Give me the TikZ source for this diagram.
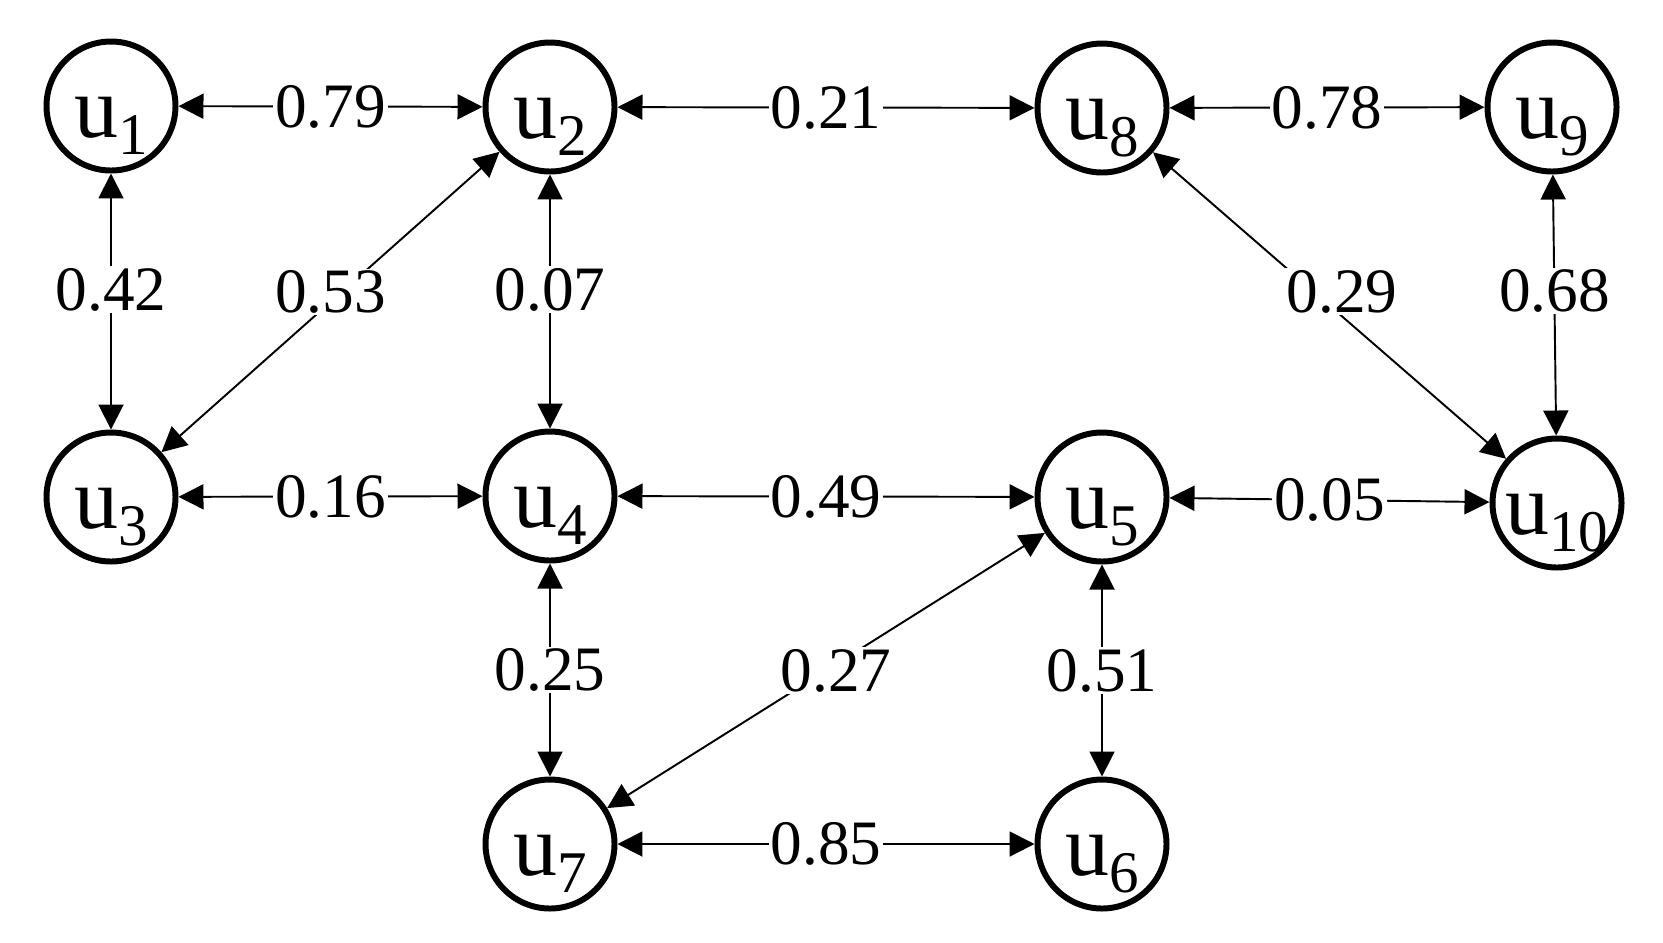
\documentclass[tikz,border=0pt]{standalone}
\usepackage{fontspec}
\setmainfont{Liberation Serif}
\usepackage{tikz}
\usetikzlibrary{arrows.meta}

\newcommand{\unode}[1]{\makebox[0pt]{\raisebox{-0.62cm}[0pt][0pt]{u\raisebox{-0.34cm}{\fontsize{33.6}{34}\selectfont #1}}}}

\begin{document}
\begin{tikzpicture}[vertex/.style={circle, draw, line width=3.4pt, minimum size=2.58cm,
                                   inner sep=0pt, font=\fontsize{50}{54}\selectfont},
                    weight/.style={fill=white, inner sep=1pt, font=\fontsize{36}{40}\selectfont},
                    >={Triangle[length=0.5cm,width=0.5cm]},
                    every edge/.style={draw, line width=1.1pt}]
                    \useasboundingbox (0,0) rectangle (33.26,-18.84);
                    % top row
                    \node[vertex] (u1) at (2.22,-2.12) {\unode{1}};
                    \node[vertex] (u2) at (11.0,-2.14) {\unode{2}};
                    \node[vertex] (u8) at (22.04,-2.16) {\unode{8}};
                    \node[vertex] (u9) at (31.04,-2.14) {\unode{9}};
                    % middle row
                    \node[vertex] (u3) at (2.22,-9.94) {\unode{3}};
                    \node[vertex] (u4) at (11.0,-9.92) {\unode{4}};
                    \node[vertex] (u5) at (22.04,-9.94) {\unode{5}};
                    \node[vertex] (u10) at (31.14,-10.06) {\unode{10}};
                    % bottom row
                    \node[vertex] (u7) at (11.0,-16.88) {\unode{7}};
                    \node[vertex] (u6) at (22.04,-16.88) {\unode{6}};
                    % edges
                    \path[<->] (u1) edge node[weight] {0.79} (u2)
                               (u2) edge node[weight] {0.21} (u8)
                               (u8) edge node[weight] {0.78} (u9)
                               (u1) edge node[weight, yshift=0.24cm] {0.42} (u3)
                               (u3) edge node[weight, yshift=0.2cm] {0.53} (u2)
                               (u2) edge node[weight, yshift=0.24cm] {0.07} (u4)
                               (u8) edge node[weight, xshift=0.25cm, yshift=0.28cm] {0.29} (u10)
                               (u9) edge node[weight, yshift=0.28cm] {0.68} (u10)
                               (u3) edge node[weight] {0.16} (u4)
                               (u4) edge node[weight] {0.49} (u5)
                               (u5) edge node[weight] {0.05} (u10)
                               (u4) edge node[weight] {0.25} (u7)
                               (u7) edge node[weight, xshift=0.2cm] {0.27} (u5)
                               (u5) edge node[weight] {0.51} (u6)
                               (u7) edge node[weight] {0.85} (u6);
                \end{tikzpicture}
\end{document}
